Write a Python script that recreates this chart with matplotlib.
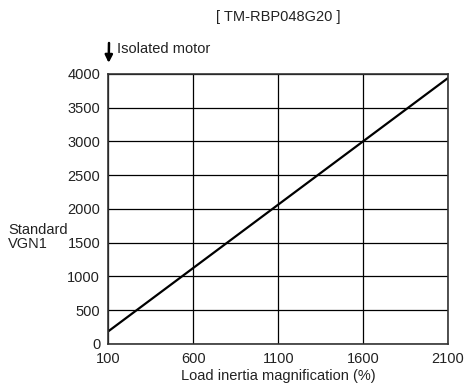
import matplotlib
matplotlib.use("Agg")
import matplotlib.pyplot as plt
import numpy as np

plt.rcParams['font.family'] = ['Liberation Sans', 'DejaVu Sans']

# data
load_inertia = [100, 2100]
vgn1 = [190, 3940]
x_ticks = [100, 600, 1100, 1600, 2100]
y_ticks = [0, 500, 1000, 1500, 2000, 2500, 3000, 3500, 4000]
title = "[ TM-RBP048G20 ]"

fig = plt.figure(figsize=(4.65, 3.85), dpi=100)
ax = fig.add_axes([0.2333, 0.1065, 0.7301, 0.7013])

ax.plot(load_inertia, vgn1, color="black", lw=1.6, solid_capstyle="butt")

ax.set_xlim(100, 2100)
ax.set_ylim(0, 4000)
ax.set_xticks(x_ticks)
ax.set_yticks(y_ticks)
ax.grid(True, color="black", lw=0.9)
ax.tick_params(length=0, labelsize=10.5, pad=6, colors="#222222")
for s in ax.spines.values():
    s.set_color("#333333")
    s.set_linewidth(1.2)

fs = 10.5
fig.text(278 / 465, 1 - 17 / 385, title, ha="center", va="center", fontsize=fs, color="#222222")
fig.text(278 / 465, 1 - 376 / 385, "Load inertia magnification (%)", ha="center", va="center",
         fontsize=fs, color="#222222")
fig.text(8 / 465, 1 - 237 / 385, "Standard\nVGN1", ha="left", va="center", fontsize=fs,
         color="#222222", linespacing=1.05)

# isolated motor arrow
ax.annotate("", xy=(100, 4000), xycoords="data",
            xytext=(109 / 465, 1 - 43 / 385), textcoords="figure fraction",
            arrowprops=dict(arrowstyle="-|>", color="black", lw=1.8, mutation_scale=11,
                            shrinkA=0, shrinkB=8),
            annotation_clip=False)
fig.text(117 / 465, 1 - 49 / 385, "Isolated motor", ha="left", va="center", fontsize=fs,
         color="#222222")

fig.savefig("out.png", dpi=100)
